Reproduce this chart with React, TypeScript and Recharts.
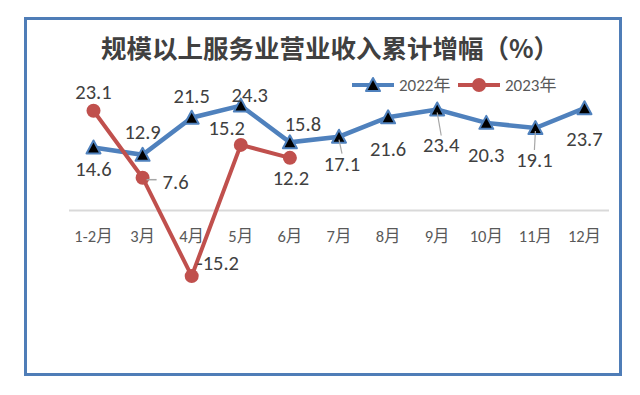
import { LineChart, Line, XAxis, YAxis, ReferenceLine, LabelList } from "recharts";

const MONTHS = ["1-2月", "3月", "4月", "5月", "6月", "7月", "8月", "9月", "10月", "11月", "12月"];
const Y2022 = [14.6, 12.9, 21.5, 24.3, 15.8, 17.1, 21.6, 23.4, 20.3, 19.1, 23.7];
const Y2023 = [23.1, 7.6, -15.2, 15.2, 12.2];
const SERIES_NAMES = ["2022年", "2023年"];
const TITLE = "规模以上服务业营业收入累计增幅（%）";

const BLUE = "#4F81BD";
const RED = "#C0504D";
const TEXT = "#404040";
const AXIS_TEXT = "#595959";
const FONT = "Calibri, Carlito, Lato, 'Noto Sans CJK SC', sans-serif";

// layout
const W = 640;
const H = 395;
const X_AXIS_H = 20;
const MARGIN = { top: 81, right: 31, bottom: 55 - X_AXIS_H, left: 69 };
const Y_MIN = -30;
const Y_MAX = 30;
const PLOT_H = H - MARGIN.top - MARGIN.bottom - X_AXIS_H;
const ZERO_Y = MARGIN.top + (PLOT_H * Y_MAX) / (Y_MAX - Y_MIN);

// label offsets [dx, dy] from the point, and which get a leader line
const OFF_2022 = [[0, 22], [0, -23], [0, -22], [9, -11], [13, -18], [3, 27], [0, 32], [4, 36], [0, 32], [-1, 32], [0, 31]];
const OFF_2023 = [[0, -19], [33, 4], [26, -13], [-14, -17], [1, 20]];
const LEAD_2022 = [5, 7, 9];
const LEAD_2023 = [1];

const data = MONTHS.map((m, i) => ({
  month: m,
  y2022: Y2022[i],
  y2023: i < Y2023.length ? Y2023[i] : null,
}));

function Triangle({ cx, cy }: { cx?: number; cy?: number }) {
  if (cx == null || cy == null) return null;
  return (
    <polygon
      points={`${cx},${cy - 7} ${cx + 7},${cy + 6} ${cx - 7},${cy + 6}`}
      fill="#000"
      stroke={BLUE}
      strokeWidth={2}
      strokeLinejoin="round"
    />
  );
}

function Dot({ cx, cy }: { cx?: number; cy?: number }) {
  if (cx == null || cy == null) return null;
  return <circle cx={cx} cy={cy} r={7} fill={RED} />;
}

function makeLabel(offsets: number[][], leaders: number[]) {
  return function Label(props: any) {
    const { x, y, value, index } = props;
    if (value == null) return null;
    const [dx, dy] = offsets[index] || [0, -20];
    const lx = x + dx;
    const ly = y + dy;
    let leader = null;
    if (leaders.includes(index)) {
      if (Math.abs(dx) > Math.abs(dy)) {
        leader = <line x1={x + 4} y1={y + 2} x2={lx - 19} y2={y + 2} stroke="#A6A6A6" strokeWidth={1.5} />;
      } else {
        leader = <line x1={x} y1={y + 3} x2={lx} y2={ly - 10} stroke="#A6A6A6" strokeWidth={1.2} />;
      }
    }
    return (
      <g>
        {leader}
        <text x={lx} y={ly} textAnchor="middle" dominantBaseline="central" fill={TEXT} fontSize={20.5} fontFamily={FONT}>
          {value}
        </text>
      </g>
    );
  };
}

function MonthTick({ x, payload }: any) {
  return (
    <text x={x} y={ZERO_Y + 25} textAnchor="middle" dominantBaseline="central" fill={AXIS_TEXT} fontSize={16.5} fontFamily={FONT}>
      {payload.value}
    </text>
  );
}

function LegendBox() {
  const colors = [BLUE, RED];
  return (
    <svg width={220} height={24}>
      {SERIES_NAMES.map((name, i) => {
        const x0 = i * 106;
        return (
          <g key={name}>
            <line x1={x0 + 2} y1={12} x2={x0 + 44} y2={12} stroke={colors[i]} strokeWidth={4} />
            {i === 0 ? <Triangle cx={x0 + 23} cy={12} /> : <Dot cx={x0 + 23} cy={12} />}
            <text x={x0 + 49} y={12} dominantBaseline="central" fill={AXIS_TEXT} fontSize={17} fontFamily={FONT}>
              {name}
            </text>
          </g>
        );
      })}
    </svg>
  );
}

export default function App() {
  return (
    <div style={{ position: "absolute", left: 0, top: 0, width: W, height: H, background: "#fff" }}>
      <div
        style={{
          position: "absolute",
          left: 24,
          top: 17,
          width: 598,
          height: 359,
          boxSizing: "border-box",
          border: "3px solid #4F7DB7",
        }}
      />
      <div
        style={{
          position: "absolute",
          left: 12,
          top: 32,
          width: 636,
          textAlign: "center",
          fontFamily: "'Noto Sans CJK SC', sans-serif",
          fontWeight: 700,
          fontSize: 25.5,
          lineHeight: "30px",
          color: TEXT,
        }}
      >
        {TITLE}
      </div>
      <div style={{ position: "absolute", left: 350, top: 73 }}>
        <LegendBox />
      </div>
      <div style={{ position: "absolute", left: 0, top: 0 }}>
        <LineChart width={W} height={H} data={data} margin={MARGIN}>
          <XAxis
            dataKey="month"
            axisLine={false}
            tickLine={false}
            height={X_AXIS_H}
            interval={0}
            padding={{ left: 24.5, right: 24.5 }}
            tick={<MonthTick />}
          />
          <YAxis hide domain={[Y_MIN, Y_MAX]} />
          <ReferenceLine y={0} stroke="#D9D9D9" strokeWidth={2} />
          <Line
            dataKey="y2022"
            name={SERIES_NAMES[0]}
            stroke={BLUE}
            strokeWidth={4.5}
            dot={<Triangle />}
            isAnimationActive={false}
          >
            <LabelList dataKey="y2022" content={makeLabel(OFF_2022, LEAD_2022)} />
          </Line>
          <Line
            dataKey="y2023"
            name={SERIES_NAMES[1]}
            stroke={RED}
            strokeWidth={4}
            dot={<Dot />}
            isAnimationActive={false}
          >
            <LabelList dataKey="y2023" content={makeLabel(OFF_2023, LEAD_2023)} />
          </Line>
        </LineChart>
      </div>
    </div>
  );
}
